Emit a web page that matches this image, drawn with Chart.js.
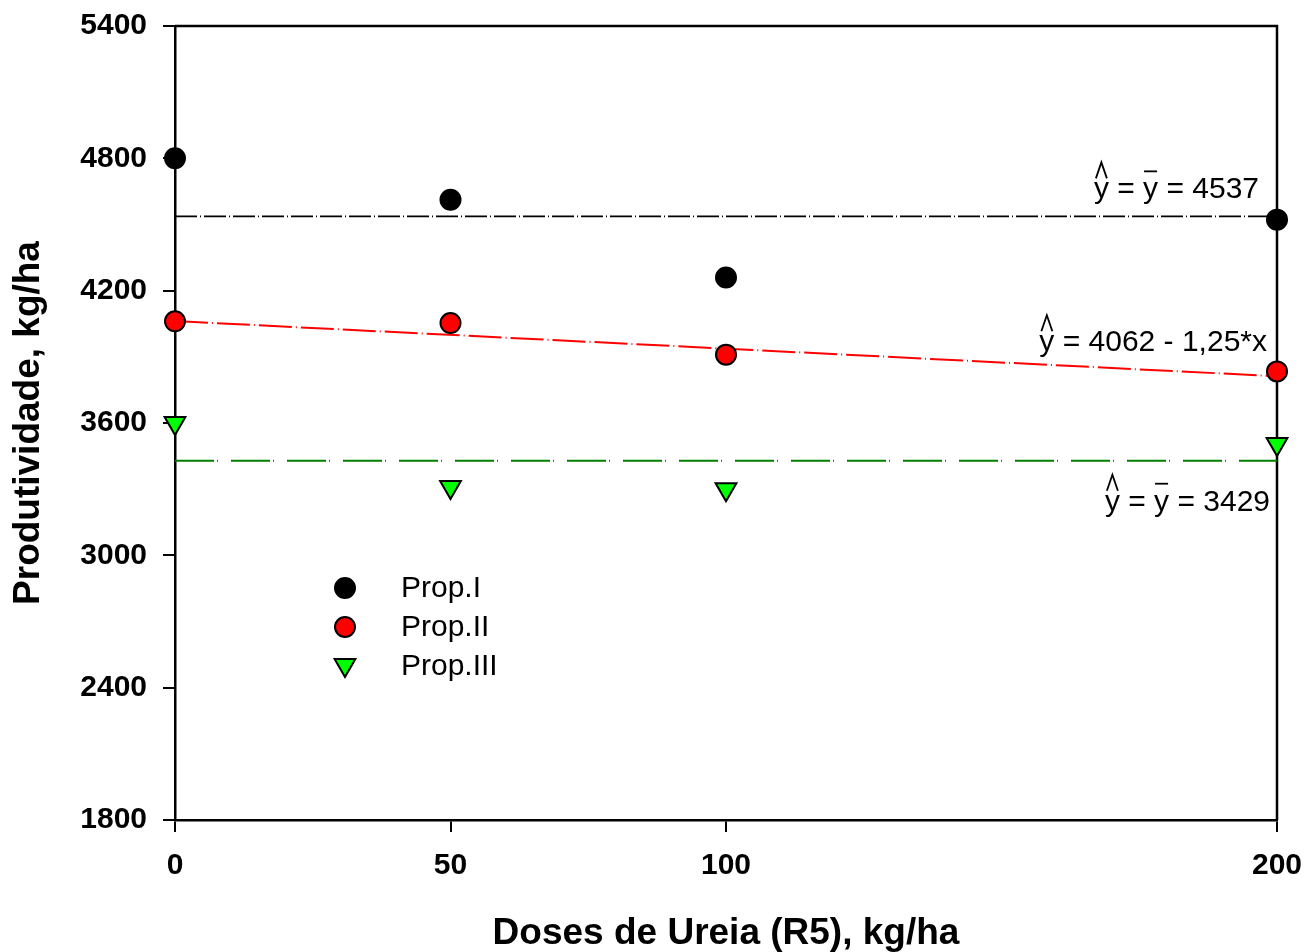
<!DOCTYPE html>
<html>
<head>
<meta charset="utf-8">
<script src="https://cdn.jsdelivr.net/npm/chart.js@4.4.0/dist/chart.umd.min.js"></script>
<style>
  html, body { margin: 0; padding: 0; background: #fff; }
</style>
</head>
<body>
<canvas id="grafico" width="1305" height="952"></canvas>
<script>
// Doses de ureia e produtividade por propriedade
const doses = [0, 50, 100, 200];
const propI = [4800, 4612, 4260, 4522];
const propII = [4061, 4053, 3910, 3834];
const propIII = [3600, 3310, 3300, 3505];
const nomes = ['Prop.I', 'Prop.II', 'Prop.III'];

const xTicks = [0, 50, 100, 200];
const yTicks = [1800, 2400, 3000, 3600, 4200, 4800, 5400];

// Ajustes: media para Prop.I e Prop.III, reta para Prop.II
const mediaI = 4537;
const mediaIII = 3429;
const regII = { a: 4062, b: -1.25 };

const fonte = "'Liberation Sans', Arial, sans-serif";

const pontos = (ys) => doses.map((x, i) => ({ x: x, y: ys[i] }));
const reta = (f) => [doses[0], doses[doses.length - 1]].map(x => ({ x: x, y: f(x) }));

const serieI = {
  label: nomes[0], data: pontos(propI), showLine: false, order: 0, clip: false,
  pointStyle: 'circle', pointRadius: 10, pointBackgroundColor: '#000', pointBorderColor: '#000', pointBorderWidth: 2
};
const serieII = {
  label: nomes[1], data: pontos(propII), showLine: false, order: 0, clip: false,
  pointStyle: 'circle', pointRadius: 10, pointBackgroundColor: '#ff0000', pointBorderColor: '#000', pointBorderWidth: 2
};
const serieIII = {
  label: nomes[2], data: pontos(propIII), showLine: false, order: 0, clip: false,
  pointStyle: 'triangle', pointRotation: 180, pointRadius: 12, pointBackgroundColor: '#00ff00', pointBorderColor: '#000', pointBorderWidth: 2
};

const linha = (data, cor, dash, w) => ({
  data: data, showLine: true, order: 1, pointRadius: 0, borderColor: cor,
  borderWidth: w, borderDash: dash, fill: false, clip: false
});

// moldura superior e direita
const moldura = {
  id: 'moldura',
  beforeDatasetsDraw(chart) {
    const { ctx, chartArea: a } = chart;
    ctx.save();
    ctx.strokeStyle = '#000';
    ctx.lineWidth = 2.5;
    ctx.beginPath();
    ctx.moveTo(a.left, a.top);
    ctx.lineTo(a.right, a.top);
    ctx.lineTo(a.right, a.bottom);
    ctx.stroke();
    ctx.restore();
  }
};

// equacoes com chapeu e barra
function equacao(ctx, partes, xDir, base) {
  ctx.font = '30px ' + fonte;
  ctx.textBaseline = 'alphabetic';
  ctx.textAlign = 'left';
  const total = partes.reduce((s, p) => s + ctx.measureText(p.t).width, 0);
  let x = xDir - total;
  partes.forEach(p => {
    const w = ctx.measureText(p.t).width;
    ctx.fillStyle = '#000';
    ctx.fillText(p.t, x, base);
    ctx.strokeStyle = '#000';
    ctx.lineWidth = 1.8;
    if (p.chapeu) {
      ctx.beginPath();
      ctx.moveTo(x + 2, base - 20);
      ctx.lineTo(x + w / 2, base - 36);
      ctx.lineTo(x + w - 2, base - 20);
      ctx.stroke();
    }
    if (p.barra) {
      ctx.beginPath();
      ctx.moveTo(x + 1, base - 27);
      ctx.lineTo(x + w - 1, base - 27);
      ctx.stroke();
    }
    x += w;
  });
}

const equacoes = {
  id: 'equacoes',
  afterDatasetsDraw(chart) {
    const { ctx, chartArea: a, scales } = chart;
    const y = scales.y;
    ctx.save();
    equacao(ctx, [{ t: 'y', chapeu: true }, { t: ' = ' }, { t: 'y', barra: true }, { t: ' = ' + mediaI }],
      a.right - 18, y.getPixelForValue(mediaI) - 18);
    equacao(ctx, [{ t: 'y', chapeu: true }, { t: ' = ' + regII.a + ' - ' + String(-regII.b).replace('.', ',') + '*x' }],
      a.right - 10, y.getPixelForValue(regII.a + regII.b * 200) - 25);
    equacao(ctx, [{ t: 'y', chapeu: true }, { t: ' = ' }, { t: 'y', barra: true }, { t: ' = ' + mediaIII }],
      a.right - 7, y.getPixelForValue(mediaIII) + 50);
    ctx.restore();
  }
};

// legenda dentro da area do grafico
const legenda = {
  id: 'legenda',
  afterDraw(chart) {
    const { ctx, chartArea: a } = chart;
    const x0 = a.left + 170, y0 = a.top + 562, passo = 39;
    ctx.save();
    [serieI, serieII, serieIII].forEach((s, i) => {
      const yy = y0 + i * passo;
      ctx.fillStyle = s.pointBackgroundColor;
      ctx.strokeStyle = s.pointBorderColor;
      ctx.lineWidth = s.pointBorderWidth;
      Chart.helpers.drawPoint(ctx, {
        pointStyle: s.pointStyle, rotation: s.pointRotation || 0,
        radius: s.pointRadius, borderWidth: s.pointBorderWidth
      }, x0, yy + (s.pointStyle === 'triangle' ? -1 : 0));
      ctx.fillStyle = '#000';
      ctx.font = '30px ' + fonte;
      ctx.textBaseline = 'middle';
      ctx.textAlign = 'left';
      ctx.fillText(s.label, x0 + 56, yy + 1);
    });
    ctx.restore();
  }
};

new Chart(document.getElementById('grafico'), {
  type: 'scatter',
  data: {
    datasets: [
      serieI, serieII, serieIII,
      linha(reta(() => mediaI), '#000', [22, 3, 1, 3], 1.8),
      linha(reta(x => regII.a + regII.b * x), '#ff0000', [33, 4, 1, 4], 2),
      linha(reta(() => mediaIII), '#008000', [39, 3, 1, 13], 2)
    ]
  },
  options: {
    responsive: false,
    devicePixelRatio: 1,
    animation: false,
    layout: { padding: { top: 26, right: 28, left: 0, bottom: 0 } },
    plugins: { legend: { display: false }, tooltip: { enabled: false } },
    scales: {
      x: {
        type: 'linear', min: 0, max: 200,
        afterFit(s) { s.height = 132; s.paddingLeft = 0; s.paddingRight = 0; },
        afterBuildTicks(s) { s.ticks = xTicks.map(v => ({ value: v })); },
        grid: { display: true, drawOnChartArea: false, drawTicks: true, tickLength: 12, color: '#000', lineWidth: 2 },
        border: { display: true, color: '#000', width: 2.5 },
        ticks: {
          color: '#000', padding: 16, maxRotation: 0, callback: v => String(v),
          font: { family: fonte, size: 30, weight: 'bold' }
        },
        title: {
          display: true, text: 'Doses de Ureia (R5), kg/ha', color: '#000',
          padding: { top: 0, bottom: 0 }, font: { family: fonte, size: 37, weight: 'bold', lineHeight: 1 }
        }
      },
      y: {
        type: 'linear', min: 1800, max: 5400,
        afterFit(s) { s.width = 175; s.paddingTop = 0; s.paddingBottom = 0; },
        afterBuildTicks(s) { s.ticks = yTicks.map(v => ({ value: v })); },
        grid: { display: true, drawOnChartArea: false, drawTicks: true, tickLength: 12, color: '#000', lineWidth: 2 },
        border: { display: true, color: '#000', width: 2.5 },
        ticks: {
          color: '#000', padding: 16, callback: v => String(v),
          font: { family: fonte, size: 30, weight: 'bold' }
        },
        title: {
          display: true, text: 'Produtividade, kg/ha', color: '#000',
          padding: { top: 10, bottom: 0 }, font: { family: fonte, size: 37, weight: 'bold', lineHeight: 1 }
        }
      }
    }
  },
  plugins: [moldura, equacoes, legenda]
});
</script>
</body>
</html>
